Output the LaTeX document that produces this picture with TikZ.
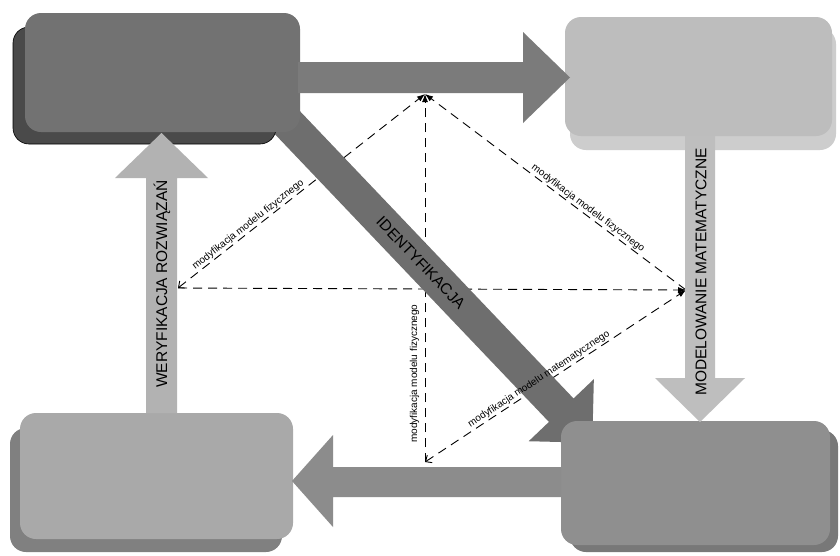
\documentclass[tikz,border=0pt]{standalone}
\usepackage{fontspec}
\setmainfont{Liberation Sans}
\usetikzlibrary{arrows.meta}
\definecolor{tlface}{HTML}{727272}
\definecolor{tlback}{HTML}{4A4A4A}
\definecolor{trface}{HTML}{BDBDBD}
\definecolor{trback}{HTML}{CDCDCD}
\definecolor{blface}{HTML}{A9A9A9}
\definecolor{blback}{HTML}{808080}
\definecolor{brface}{HTML}{8F8F8F}
\definecolor{brback}{HTML}{787878}
\definecolor{arrtop}{HTML}{7B7B7B}
\definecolor{arrright}{HTML}{BEBEBE}
\definecolor{arrbottom}{HTML}{8C8C8C}
\definecolor{arrleft}{HTML}{B2B2B2}
\definecolor{arrdiag}{HTML}{6E6E6E}
\tikzset{
  boxface/.style={rounded corners=16pt, draw=none},
  biglabel/.style={font=\fontsize{15.5}{16}\selectfont, text=black, inner sep=0pt},
  smalllabel/.style={font=\fontsize{10}{11}\selectfont, text=black, inner sep=1.5pt},
  dashline/.style={draw=black, line width=0.9pt, dash pattern=on 9pt off 6pt},
  filltip/.style={-{Latex[length=8pt,width=6pt]}},
  barbfill/.style={{Straight Barb[length=5pt,width=9pt]}-{Latex[length=8pt,width=6pt]}},
}
\begin{document}
\begin{tikzpicture}[x=1pt,y=-1pt]
\useasboundingbox[fill=white] (0,0) rectangle (840,555);

% dashed connectors (under the block arrows)
\coordinate (hub) at (425,94);
\coordinate (lp) at (178,288);
\coordinate (rp) at (686,290);
\coordinate (bp) at (425,462);

\draw[dashline, barbfill] (lp) -- coordinate[pos=0.30] (m1) (hub);
\draw[dashline, filltip] (rp) -- coordinate[pos=0.39] (m2) (hub);
\draw[dashline, filltip] (bp) -- coordinate[pos=0.24] (m3) (hub);
\draw[dashline, filltip] (lp) -- (rp);
\draw[dashline, barbfill] (bp) -- coordinate[pos=0.45] (m5) (rp);

% diagonal arrow (under the boxes)
\begin{scope}[shift={(283,118)}, rotate=-46.4]
  \fill[arrdiag] (0,-17) -- (403.5,-17) -- (403.5,-45) -- (448.5,0) -- (403.5,45) -- (403.5,17) -- (0,17) -- cycle;
  \node[biglabel, rotate=-46.4] (identlabel) at (200,0) {IDENTYFIKACJA};
\end{scope}

% boxes with their back faces
\fill[tlback, rounded corners=16pt, draw=black, line width=0.6pt] (13,27) rectangle (276,144);
\path[boxface, fill=tlface] (25,13) rectangle (300,132);
\node[inner sep=0pt, minimum width=275pt, minimum height=119pt] (tl) at (162.5,72.5) {};

\fill[trback, rounded corners=16pt] (570,28) rectangle (836,150);
\path[boxface, fill=trface] (565,17) rectangle (832,136);
\node[inner sep=0pt, minimum width=267pt, minimum height=119pt] (tr) at (698.5,76.5) {};

\fill[blback, rounded corners=16pt] (10,428) rectangle (282,552);
\path[boxface, fill=blface] (20,413) rectangle (293,539);
\node[inner sep=0pt, minimum width=273pt, minimum height=126pt] (bl) at (156.5,476) {};

\fill[brback, rounded corners=16pt] (570,430) rectangle (838,552);
\path[boxface, fill=brface] (561,421) rectangle (830,545);
\node[inner sep=0pt, minimum width=269pt, minimum height=124pt] (br) at (695.5,483) {};

% top arrow
\fill[arrtop] (298,62) -- (523,62) -- (523,32) -- (570,77.5) -- (523,123) -- (523,93) -- (298,93) -- cycle;
% right arrow
\fill[arrright] (685,136) -- (715,136) -- (715,378) -- (745,378) -- (700,422) -- (655,378) -- (685,378) -- cycle;
\node[biglabel, rotate=90] (modlabel) at (701,272) {MODELOWANIE MATEMATYCZNE};
% bottom arrow
\fill[arrbottom] (561,467) -- (333,467) -- (333,435) -- (292,481) -- (333,527) -- (333,497) -- (561,497) -- cycle;
% left arrow
\fill[arrleft] (146,413) -- (146,178) -- (115,178) -- (161.5,133) -- (208,178) -- (177,178) -- (177,413) -- cycle;
\node[biglabel, rotate=90] (werlabel) at (162,284) {WERYFIKACJA ROZWIĄZAŃ};

% labels of the dashed connectors
\path (lp) -- node[smalllabel, sloped, above, pos=0.30] (l1) {modyfikacja modelu fizycznego} (hub);
\path (rp) -- node[smalllabel, sloped, above, pos=0.39] (l2) {modyfikacja modelu fizycznego} (hub);
\path (bp) -- node[smalllabel, sloped, above, pos=0.24, yshift=4pt] (l3) {modyfikacja modelu fizycznego} (hub);
\path (bp) -- node[smalllabel, sloped, above, pos=0.45] (l5) {modyfikacja modelu matematycznego} (rp);
\end{tikzpicture}
\end{document}
